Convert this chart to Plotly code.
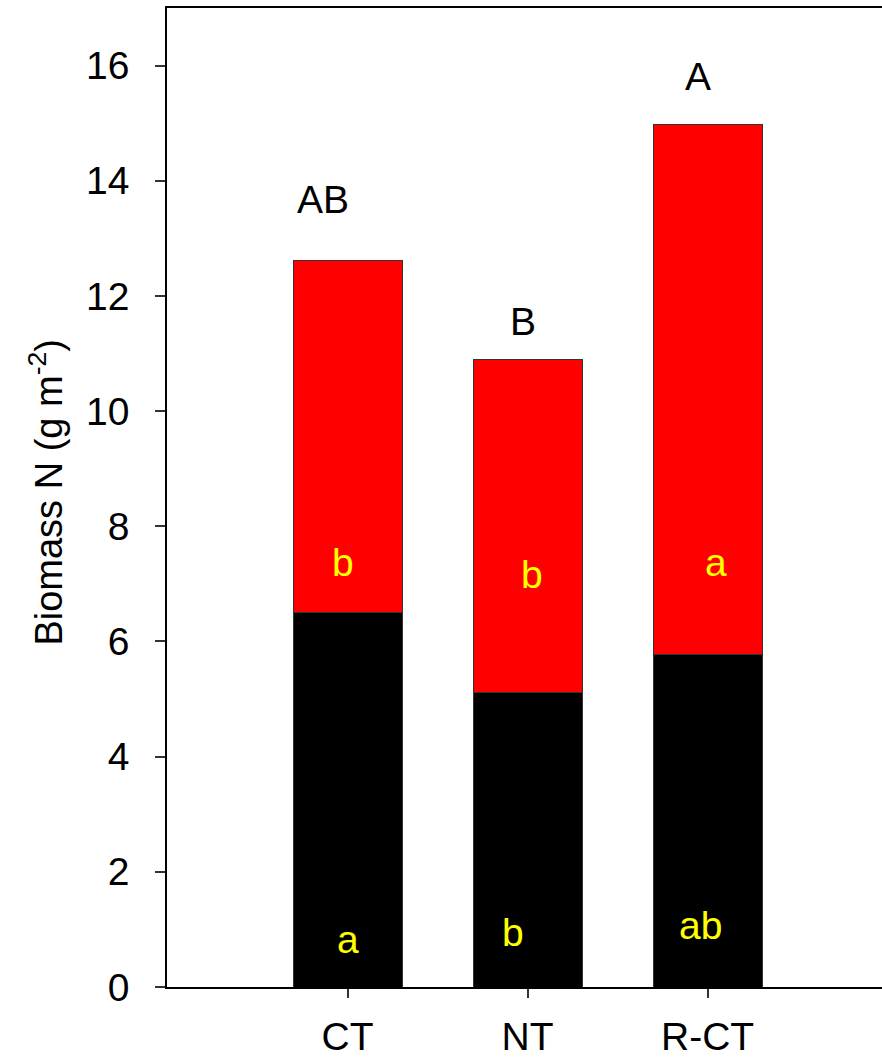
import plotly.graph_objects as go

# Treatments and stacked biomass N components (g m-2)
treatments = ["CT", "NT", "R-CT"]
lower_n = [6.51, 5.12, 5.78]   # black segment
upper_n = [6.10, 5.77, 9.19]   # red segment

# Significance letters
total_letters = ["AB", "B", "A"]
lower_letters = ["a", "b", "ab"]
upper_letters = ["b", "b", "a"]

# Letter placement (x offset from the bar centre in category units, y in data units)
total_dx = [-0.136, -0.025, -0.053]
total_y = [13.68, 11.56, 15.81]
lower_dx = [0.0, -0.081, -0.042]
lower_y = [0.83, 0.94, 1.06]
upper_dx = [-0.025, 0.025, 0.047]
upper_y = [7.37, 7.16, 7.37]

FONT = "Arial, Liberation Sans, sans-serif"
xpos = list(range(len(treatments)))

fig = go.Figure()
fig.add_bar(x=xpos, y=lower_n, width=0.606, marker=dict(color="black", line=dict(color="#333", width=1)))
fig.add_bar(x=xpos, y=upper_n, width=0.606, marker=dict(color="#ff0000", line=dict(color="#333", width=1)))

annotations = []
for i in xpos:
    annotations.append(dict(x=i + total_dx[i], y=total_y[i], text=total_letters[i], showarrow=False,
                            font=dict(family=FONT, size=39, color="black"), xanchor="center", yanchor="middle"))
    annotations.append(dict(x=i + lower_dx[i], y=lower_y[i], text=lower_letters[i], showarrow=False,
                            font=dict(family=FONT, size=39, color="#ffff00"), xanchor="center", yanchor="middle"))
    annotations.append(dict(x=i + upper_dx[i], y=upper_y[i], text=upper_letters[i], showarrow=False,
                            font=dict(family=FONT, size=39, color="#ffff00"), xanchor="center", yanchor="middle"))

annotations.append(dict(xref="paper", yref="paper", x=(46 - 167) / 715, y=0.505,
                        text="Biomass N (g m<sup>-2</sup>)", textangle=-90, showarrow=False,
                        font=dict(family=FONT, size=38, color="black"), xanchor="center", yanchor="middle"))

fig.update_layout(
    barmode="stack",
    width=882, height=1060,
    margin=dict(l=167, r=0, t=8, b=73, autoexpand=False),
    paper_bgcolor="white", plot_bgcolor="white",
    showlegend=False,
    annotations=annotations,
    font=dict(family=FONT, size=39, color="black"),
)
fig.update_xaxes(
    range=[-1.003, 2.969], tickmode="array", tickvals=xpos, ticktext=treatments,
    showline=True, linecolor="black", linewidth=1.5, mirror=True,
    ticks="outside", ticklen=9, tickwidth=1.5, tickcolor="#333",
    showgrid=False, zeroline=False, ticklabelstandoff=5, automargin=False,
)
fig.update_yaxes(
    range=[0, 17], tickmode="linear", tick0=0, dtick=2,
    showline=True, linecolor="black", linewidth=1.5, mirror=False,
    ticks="outside", ticklen=10, tickwidth=1.5, tickcolor="#333",
    showgrid=False, zeroline=False, ticklabelstandoff=18, automargin=False,
)

fig.write_html("out.html")
